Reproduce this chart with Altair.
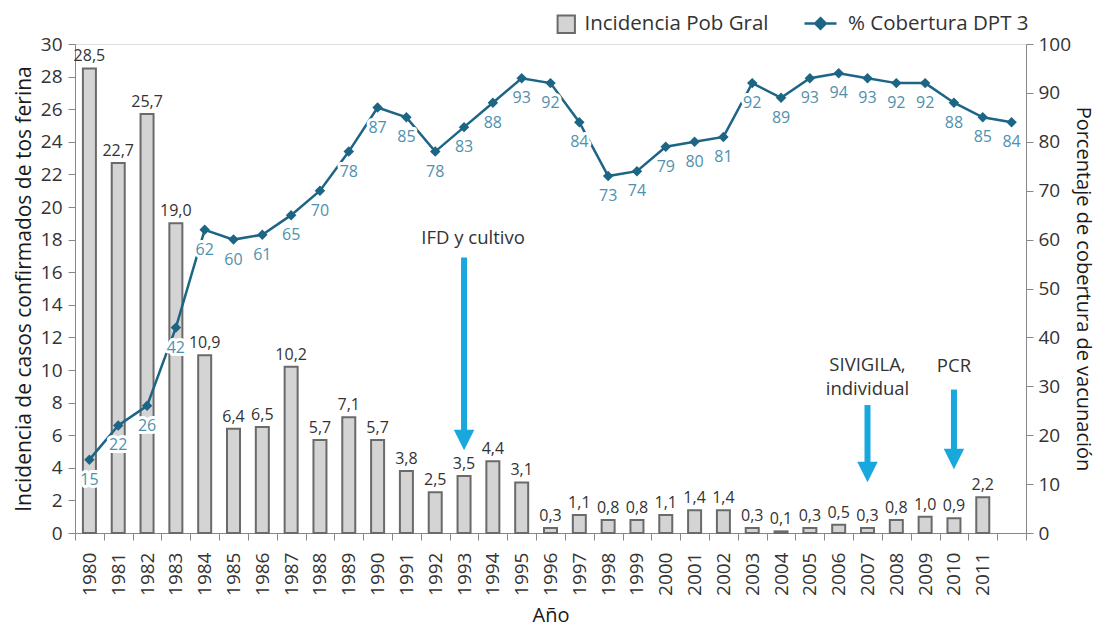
import altair as alt
import pandas as pd

FONT = "Open Sans"

years = ["1980", "1981", "1982", "1983", "1984", "1985", "1986", "1987", "1988",
         "1989", "1990", "1991", "1992", "1993", "1994", "1995", "1996", "1997",
         "1998", "1999", "2000", "2001", "2002", "2003", "2004", "2005", "2006",
         "2007", "2008", "2009", "2010", "2011", "2012"]
incidence = [28.5, 22.7, 25.7, 19.0, 10.9, 6.4, 6.5, 10.2, 5.7, 7.1, 5.7, 3.8, 2.5,
             3.5, 4.4, 3.1, 0.3, 1.1, 0.8, 0.8, 1.1, 1.4, 1.4, 0.3, 0.1, 0.3, 0.5,
             0.3, 0.8, 1.0, 0.9, 2.2, None]
coverage = [15, 22, 26, 42, 62, 60, 61, 65, 70, 78, 87, 85, 78, 83, 88, 93, 92, 84,
            73, 74, 79, 80, 81, 92, 89, 93, 94, 93, 92, 92, 88, 85, 84]

left_ticks = [0, 2, 4, 6, 8, 10, 12, 14, 16, 18, 20, 22, 24, 26, 28, 30]
right_ticks = [0, 10, 20, 30, 40, 50, 60, 70, 80, 90, 100]

arrow_years = ["1993", "2007", "2010"]
arrow_top = [16.9, 7.85, 8.8]
arrow_head = [5.7, 3.74, 4.54]

note_years = ["1993", "2007", "2007", "2010"]
note_texts = ["IFD y cultivo", "SIVIGILA,", "individual", "PCR"]
note_y = [18.1, 10.3, 8.85, 10.25]
note_shift = [1, 0, 0, 0]

BAR_NAME = "Incidencia Pob Gral"
LINE_NAME = "% Cobertura DPT 3"
LINE_COLOR = "#1d6585"
LABEL_COLOR = "#4f91ad"
ARROW_COLOR = "#19a8de"
TEXT_COLOR = "#333333"

df = pd.DataFrame({"year": years, "inc": incidence, "cov": coverage})
df["bar_series"] = BAR_NAME
df["line_series"] = LINE_NAME
arrows = pd.DataFrame({"year": arrow_years, "top": arrow_top, "head": arrow_head})
notes = pd.DataFrame({"year": note_years, "text": note_texts, "y": note_y, "shift": note_shift})

x_axis = alt.Axis(
    title="Año", labelAngle=-90, labelFontSize=19, labelFont=FONT, labelColor=TEXT_COLOR,
    labelPadding=12, tickBand="extent", tickSize=7, titleFontSize=20, titleFont=FONT,
    titleFontWeight="normal", titleColor="#1a1a1a", titlePadding=10,
    labelExpr="datum.value == '2012' ? '' : datum.value",
)
x_scale = alt.Scale(domain=years, paddingInner=0, paddingOuter=0)
x_enc = alt.X("year:N", sort=years, scale=x_scale, axis=x_axis)

left_scale = alt.Scale(domain=[0, 30], nice=False, zero=True)
right_scale = alt.Scale(domain=[0, 100], nice=False, zero=True)

LEFT_TITLE = "Incidencia de casos confirmados de tos ferina"
RIGHT_TITLE = "Porcentaje de cobertura de vacunación"

left_axis = alt.Axis(
    values=left_ticks, title=LEFT_TITLE,
    labelFontSize=19, labelFont=FONT, labelColor=TEXT_COLOR, labelPadding=6,
    tickSize=7, titleFontSize=21, titleFont=FONT, titleFontWeight="normal",
    titleColor="#1a1a1a", titlePadding=6, grid=False,
)
right_axis = alt.Axis(
    values=right_ticks, title=RIGHT_TITLE, orient="right",
    labelFontSize=19, labelFont=FONT, labelColor=TEXT_COLOR, labelPadding=5,
    tickSize=7, titleFontSize=20, titleFont=FONT, titleFontWeight="normal",
    titleColor="#1a1a1a", titlePadding=2, titleAngle=90, grid=False,
)


def yl(field):
    return alt.Y(field, scale=left_scale, axis=left_axis, title=LEFT_TITLE)


def yr(field):
    return alt.Y(field, scale=right_scale, axis=right_axis, title=RIGHT_TITLE)


base = alt.Chart(df)

bars = base.transform_filter("isValid(datum.inc)").mark_bar(
    width=13, stroke="#6a6a6a", strokeWidth=2
).encode(
    x=x_enc,
    y=yl("inc:Q"),
    fill=alt.Fill(
        "bar_series:N",
        scale=alt.Scale(domain=[BAR_NAME], range=["#d4d4d4"]),
        legend=alt.Legend(
            title=None, orient="none", legendX=481, legendY=-30, symbolType="square",
            symbolSize=300, symbolStrokeColor="#6a6a6a", symbolStrokeWidth=2,
            labelFontSize=20.5, labelFont=FONT, labelColor=TEXT_COLOR, labelOffset=8,
            labelLimit=400, padding=0,
        ),
    ),
)

bar_labels = base.transform_filter("isValid(datum.inc)").transform_calculate(
    lab="replace(format(datum.inc, '.1f'), '.', ',')"
).mark_text(dy=-12, fontSize=16, font=FONT, color=TEXT_COLOR).encode(
    x=x_enc,
    y=yl("inc:Q"),
    text="lab:N",
)

shafts = alt.Chart(arrows).mark_rule(color=ARROW_COLOR, strokeWidth=6).encode(
    x=x_enc,
    y=yl("top:Q"),
    y2="head:Q",
)
heads = alt.Chart(arrows).mark_point(
    shape="M-1,-1L1,-1L0,1Z", filled=True, fill=ARROW_COLOR, strokeWidth=0, size=420, opacity=1
).encode(
    x=x_enc,
    y=yl("head:Q"),
)
note_plain = alt.Chart(notes).transform_filter("datum.shift == 0").mark_text(
    fontSize=18.5, font=FONT, color=TEXT_COLOR
).encode(
    x=x_enc,
    y=yl("y:Q"),
    text="text:N",
)
note_shifted = alt.Chart(notes).transform_filter("datum.shift == 1").mark_text(
    fontSize=18.5, font=FONT, color=TEXT_COLOR, dx=9
).encode(
    x=x_enc,
    y=yl("y:Q"),
    text="text:N",
)

left = alt.layer(bars, bar_labels, shafts, heads, note_plain, note_shifted)

line = base.mark_line(strokeWidth=2.5).encode(
    x=x_enc,
    y=yr("cov:Q"),
    color=alt.Color(
        "line_series:N",
        scale=alt.Scale(domain=[LINE_NAME], range=[LINE_COLOR]),
        legend=alt.Legend(
            title=None, orient="none", legendX=728, legendY=-38,
            symbolType="M-1,0L1,0M0,-0.33L0.33,0L0,0.33L-0.33,0Z",
            symbolSize=1024, symbolFillColor=LINE_COLOR, symbolStrokeColor=LINE_COLOR,
            symbolStrokeWidth=2.5, labelFontSize=20.5, labelFont=FONT,
            labelColor=TEXT_COLOR, labelOffset=10, labelLimit=400, padding=0,
        ),
    ),
)
points = base.mark_point(shape="diamond", filled=True, size=110, color=LINE_COLOR, opacity=1).encode(
    x=x_enc,
    y=yr("cov:Q"),
)
halo = base.mark_text(
    dy=20, fontSize=16, font=FONT, color="white", stroke="white", strokeWidth=6, strokeJoin="round"
).encode(
    x=x_enc,
    y=yr("cov:Q"),
    text="cov:Q",
)
line_labels = base.mark_text(dy=20, fontSize=16, font=FONT, color=LABEL_COLOR).encode(
    x=x_enc,
    y=yr("cov:Q"),
    text="cov:Q",
)

right = alt.layer(line, points, halo, line_labels)

chart = alt.layer(left, right).resolve_scale(y="independent").properties(
    width=951, height=489,
    autosize=alt.AutoSizeParams(type="none"),
    padding={"left": 67, "top": 36, "right": 71, "bottom": 96},
).configure_view(stroke=None).configure_axis(
    domainColor="#555555", domainWidth=1.5, tickColor="#555555", tickWidth=1.5,
).configure(background="white")

chart.save("out.html", embed_options={"renderer": "svg", "actions": False})
